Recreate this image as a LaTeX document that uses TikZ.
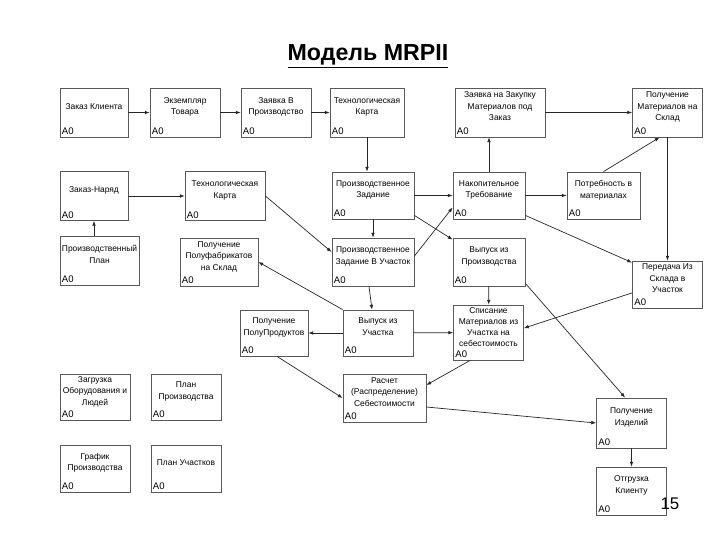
\documentclass[tikz,border=0pt]{standalone}
\usepackage{fontspec}
\setmainfont{Liberation Sans}
\usetikzlibrary{positioning,arrows.meta}
\begin{document}
\begin{tikzpicture}
[x=0.25mm, y=-0.25mm, node distance=22.75mm, >={Latex[length=3.4pt,width=2.6pt]}, font=\fontsize{6}{8.2}\selectfont]

\tikzstyle{block}=[rectangle, draw=black!65, line width=0.6pt, align=center, inner sep=1pt, minimum width=17.5mm, minimum height=12.25mm, text depth=9pt, label={[anchor=south west, inner sep=1.5pt, font=\fontsize{6.8}{8}\selectfont]south west:A0}]
\tikzstyle{link}=[->, draw=black!85, line width=0.5pt]

\useasboundingbox (0,0) rectangle (720,540);

\node (title) at (368,56) {\fontsize{16.5}{19}\selectfont\bfseries\underline{Модель MRPII}};

\node[block, minimum width=17mm]	(zakaz)	at (94,112.5)	{Заказ Клиента};
\node[block]	(ekz)		[right of=zakaz]	{Экземпляр\\Товара};
\node[block]	(zayavka)	[right of=ekz]		{Заявка В\\Производство};
\node[block, minimum width=18.5mm]	(tk1)	[right of=zayavka]	{Технологическая\\Карта};
\node[block, minimum width=22.5mm]	(zakupka)	at (500,112.5)	{Заявка на Закупку\\Материалов под\\Заказ};
\node[block]	(polmat)	at (667.5,112.5)	{Получение\\Материалов на\\Склад};

\node[block, minimum width=17mm]	(naryad)	at (94,196)	{Заказ-Наряд};
\node[block, minimum width=20mm]	(tk2)	at (225,196)	{Технологическая\\Карта};
\node[block, minimum width=20.5mm, minimum height=11.75mm]	(przad)	at (373,195.5)	{Производственное\\Задание};
\node[block, minimum width=18mm, minimum height=11.75mm]	(nakop)	at (489,195.5)	{Накопительное\\Требование};
\node[block, minimum width=18.25mm, minimum height=11.75mm]	(potreb)	at (603.5,195.5)	{Потребность в\\материалах};

\node[block, minimum width=19.75mm]	(prplan)	at (99.5,260.5)	{Производственный\\План};
\node[block, minimum width=19.5mm, minimum height=12mm]	(polufab)	at (219,262)	{Получение\\Полуфабрикатов\\на Склад};
\node[block, minimum width=20.5mm, minimum height=12mm]	(przaduch)	at (373,262)	{Производственное\\Задание В Участок};
\node[block, minimum width=18mm, minimum height=12mm]	(vypprod)	at (489,262)	{Выпуск из\\Производства};
\node[block, minimum height=11.75mm]	(peredacha)	at (667.5,284.5)	{Передача Из\\Склада в\\Участок};

\node[block, minimum width=17mm, minimum height=11.5mm]	(polprod)	at (274,333)	{Получение\\ПолуПродуктов};
\node[block, minimum height=11.5mm]	(vypuch)	at (378,333)	{Выпуск из\\Участка};
\node[block, minimum height=13.75mm, text depth=8pt, font=\fontsize{6}{7.9}\selectfont]	(spisanie)	at (488.5,332.5)	{Списание\\Материалов из\\Участка на\\себестоимость};

\node[block, minimum height=11.5mm]	(zagruzka)	at (95,397)	{Загрузка\\Оборудования и\\Людей};
\node[block, minimum height=11.5mm]	(planpr)	[right of=zagruzka]	{План\\Производства};
\node[block, minimum width=20.75mm, minimum height=12mm]	(raschet)	at (384.5,398)	{Расчет\\(Распределение)\\Себестоимости};
\node[block, minimum height=12.5mm]	(polizd)	at (631.5,423)	{Получение\\Изделий};

\node[block, minimum height=11.75mm]	(grafik)	at (95,468.5)	{График\\Производства};
\node[block, minimum height=11.75mm]	(planuch)	[right of=grafik]	{План Участков};
\node[block, minimum height=12mm]	(otgruzka)	at (631.5,491)	{Отгрузка\\Клиенту};

\node (pagenum) at (670,504) {\fontsize{12}{14}\selectfont 15};

\draw[link] (zakaz) -- (ekz);
\draw[link] (ekz) -- (zayavka);
\draw[link] (zayavka) -- (tk1);
\draw[link] (zakupka) -- (polmat);
\draw[link] (tk1.south) -- (tk1.south |- przad.north);
\draw[link] (nakop.north) -- (nakop.north |- zakupka.south);
\draw[link] (potreb.north) -- ([xshift=-2mm]polmat.south);
\draw[link] (polmat.south) -- (peredacha.north);

\draw[link] (naryad) -- (tk2);
\draw[link] (naryad.south |- prplan.north) -- (naryad.south);
\draw[link] (tk2.east) -- ([yshift=2.5mm]przaduch.west);
\draw[link] (przad) -- (nakop);
\draw[link] (nakop) -- (potreb);
\draw[link] (przad) -- (przaduch);
\draw[link] ([yshift=1.5mm]przaduch.east) -- ([yshift=-3mm]nakop.west);
\draw[link] ([yshift=1mm]przad.south east) -- ([yshift=-0.5mm]vypprod.north west);
\draw[link] ([yshift=1mm]nakop.south east) -- ([yshift=-0.5mm]peredacha.north west);
\draw[link] ([yshift=-2.1mm]peredacha.west) -- ([yshift=1.1mm]spisanie.east);
\draw[link] (vypprod) -- (spisanie);
\draw[link] ([yshift=0.75mm]vypprod.south east) -- ([xshift=-1.6mm]polizd.north);

\draw[link] ([xshift=-1mm]przaduch.south) -- ([xshift=-1.5mm]vypuch.north);
\draw[link] (vypuch) -- (polprod);
\draw[link] (vypuch) -- (spisanie);
\draw[link] (vypuch.north west) -- (polufab.east);
\draw[link] ([xshift=0.75mm]polprod.south) -- (raschet.west);
\draw[link] ([xshift=-4.6mm]spisanie.south) -- ([yshift=3.25mm]raschet.east);
\draw[link] ([yshift=-2.25mm]raschet.east) -- (polizd.west);
\draw[link] (polizd) -- (otgruzka);
\end{tikzpicture}
\end{document}
